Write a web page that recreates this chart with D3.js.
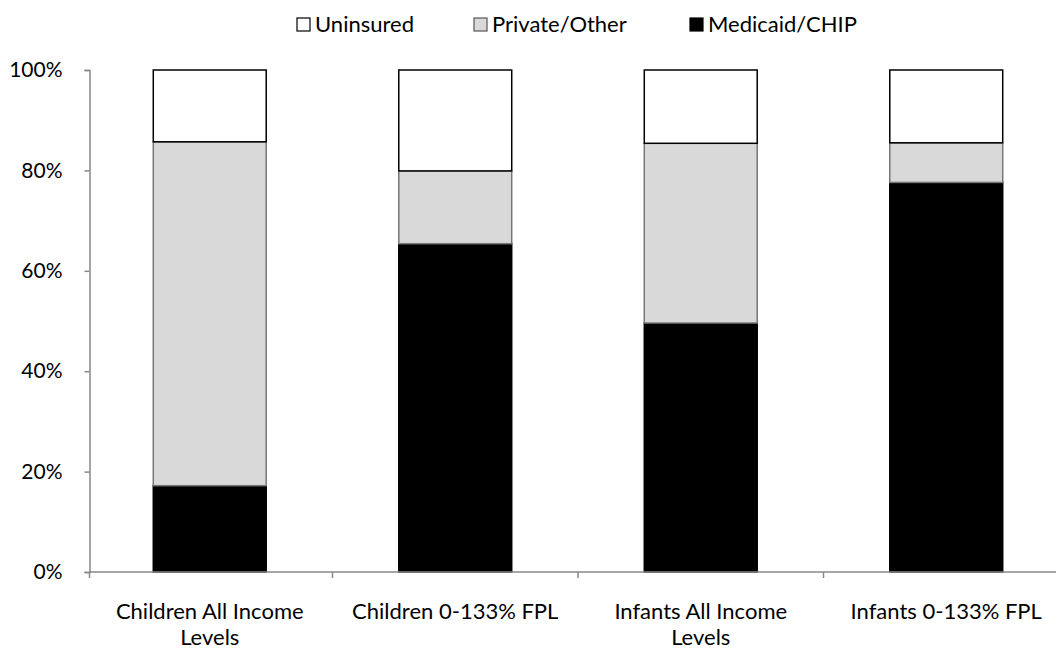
<!DOCTYPE html>
<html>
<head>
<meta charset="utf-8">
<script src="https://cdn.jsdelivr.net/npm/d3@7"></script>
<style>
  body { margin: 0; background: #fff; }
  text { font-family: Lato, "Open Sans", sans-serif; fill: #000; }
</style>
</head>
<body>
<div id="chart"></div>
<script>
const WIDTH = 1057
const HEIGHT = 653
const AXIS_X = 89.5
const AXIS_END = 1056

const categories = ['Children All Income Levels', 'Children 0-133% FPL', 'Infants All Income Levels', 'Infants 0-133% FPL']
const medicaid = [17.2, 65.4, 49.6, 77.6]
const privateOther = [68.5, 14.5, 35.8, 7.9]
const uninsured = [14.3, 20.1, 14.6, 14.5]
const yTicks = [0, 20, 40, 60, 80, 100]

const seriesInfo = [
    { key: 'medicaid', name: 'Medicaid/CHIP', fill: '#000', stroke: '#000' },
    { key: 'privateOther', name: 'Private/Other', fill: '#d9d9d9', stroke: '#777' },
    { key: 'uninsured', name: 'Uninsured', fill: '#fff', stroke: '#000' }
]

const rows = categories.map((c, i) => ({
    category: c, medicaid: medicaid[i], privateOther: privateOther[i], uninsured: uninsured[i]
}))

const main = _ => {
    const svg = d3.select('#chart').append('svg')
        .attr('width', WIDTH)
        .attr('height', HEIGHT)

    const x = d3.scaleBand()
        .domain(categories)
        .range([87, 1069])
        .paddingInner(0.54)
        .paddingOuter(0.27)

    const y = d3.scaleLinear()
        .domain([0, 100])
        .range([572, 70])

    const stack = d3.stack().keys(seriesInfo.map(s => s.key))
    const layers = stack(rows)

    // y axis
    const yAxis = d3.axisLeft(y)
        .tickValues(yTicks)
        .tickFormat(d => d + '%')
        .tickSize(5)
        .tickPadding(22)

    const yg = svg.append('g')
        .attr('transform', `translate(${AXIS_X},0)`)
        .call(yAxis)
    yg.selectAll('path, line').attr('stroke', '#888').attr('stroke-width', 1.5)
    yg.selectAll('text').style('font-size', '21px').style('font-family', 'Lato, sans-serif')

    // bars
    svg.append('g').selectAll('g')
        .data(layers)
        .join('g')
        .each(function (layer, li) {
            const info = seriesInfo[li]
            d3.select(this).selectAll('rect')
                .data(layer)
                .join('rect')
                .attr('x', d => x(d.data.category))
                .attr('width', x.bandwidth())
                .attr('y', d => y(d[1]))
                .attr('height', d => y(d[0]) - y(d[1]))
                .attr('fill', info.fill)
                .attr('stroke', info.stroke)
                .attr('stroke-width', 1.5)
        })

    // x axis line and boundary ticks
    const xg = svg.append('g')
    xg.append('line')
        .attr('x1', AXIS_X).attr('x2', AXIS_END)
        .attr('y1', y(0)).attr('y2', y(0))
        .attr('stroke', '#888').attr('stroke-width', 1.5)
    const bounds = categories.slice(1).map(c => x(c) - x.step() * x.paddingInner() / 2)
    bounds.push(AXIS_X)
    xg.selectAll('line.tick')
        .data(bounds)
        .join('line')
        .attr('class', 'tick')
        .attr('x1', d => d).attr('x2', d => d)
        .attr('y1', y(0)).attr('y2', y(0) + 6)
        .attr('stroke', '#888').attr('stroke-width', 1.5)

    // category labels, wrapped by hand
    const wrapLabel = c => c.length > 20 ? [c.replace(/ Levels$/, ''), 'Levels'] : [c]
    const labels = xg.selectAll('text')
        .data(categories)
        .join('text')
        .attr('text-anchor', 'middle')
        .attr('x', d => x(d) + x.bandwidth() / 2)
        .attr('y', 619)
        .style('font-size', '22px')
    labels.each(function (d) {
        const cx = x(d) + x.bandwidth() / 2
        d3.select(this).selectAll('tspan')
            .data(wrapLabel(d))
            .join('tspan')
            .attr('x', cx)
            .attr('dy', (t, i) => i === 0 ? 0 : 26)
            .text(t => t)
    })

    // legend
    const legendItems = [seriesInfo[2], seriesInfo[1], seriesInfo[0]]
    const legendX = [297, 474, 690]
    const legend = svg.append('g').selectAll('g')
        .data(legendItems)
        .join('g')
        .attr('transform', (d, i) => `translate(${legendX[i]},18)`)
    legend.append('rect')
        .attr('width', 13).attr('height', 13)
        .attr('fill', d => d.fill)
        .attr('stroke', d => d.key === 'privateOther' ? '#555' : '#000')
        .attr('stroke-width', 1.2)
    legend.append('text')
        .attr('x', 18).attr('y', 14)
        .style('font-size', '22px')
        .text(d => d.name)
}

document.addEventListener('DOMContentLoaded', main)
</script>
</body>
</html>
